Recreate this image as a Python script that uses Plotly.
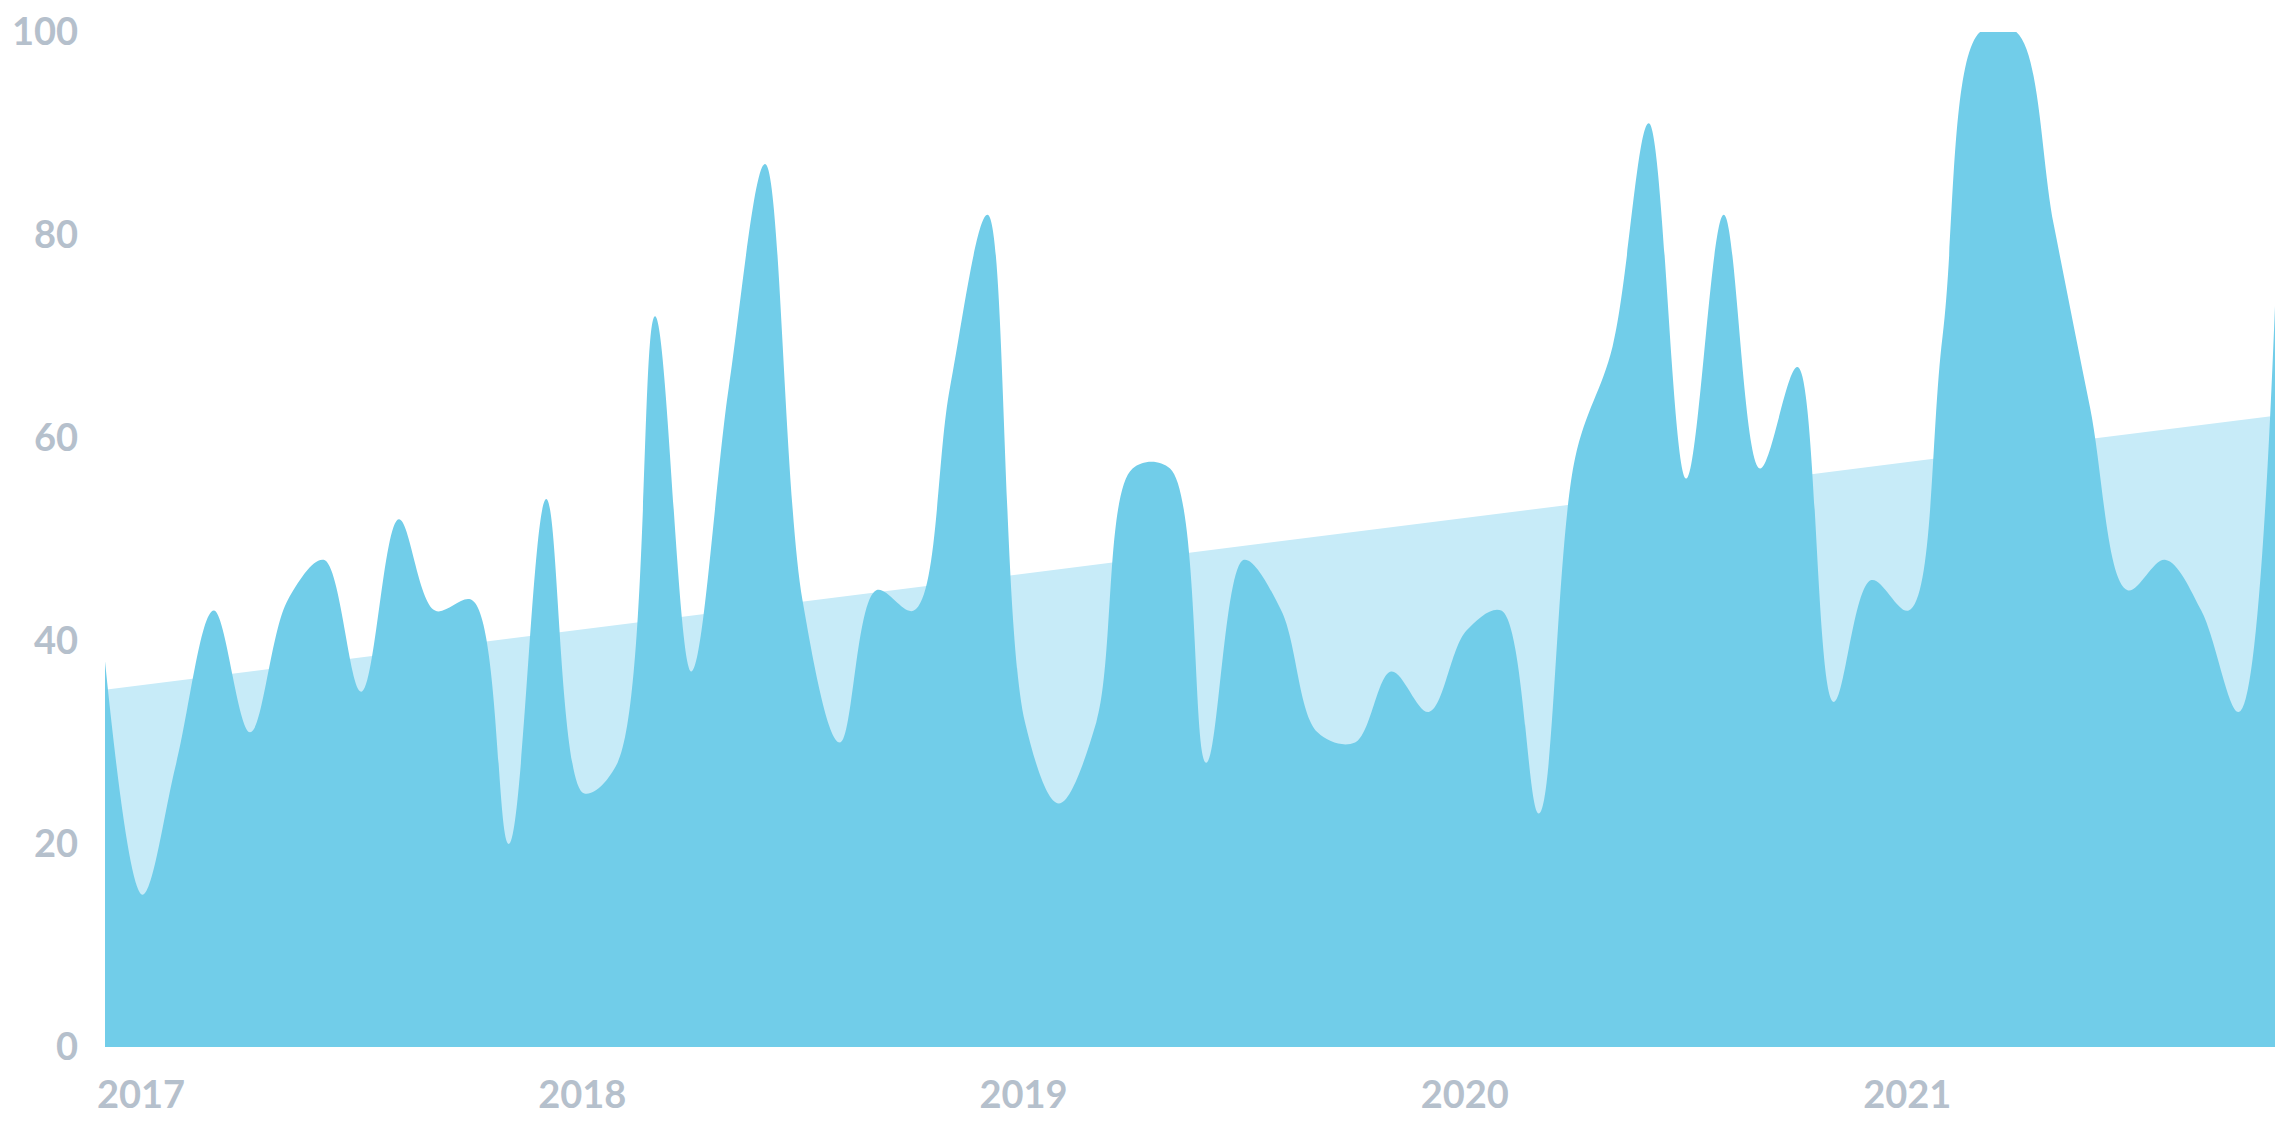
import plotly.graph_objects as go
import pandas as pd

# Monthly values, Jan 2017 .. Dec 2021
months = pd.date_range("2017-01-01", periods=60, freq="MS").strftime("%Y-%m-%d").tolist()
values = [
    38, 15, 28, 43, 31, 44, 48, 35, 52, 43, 44, 20,   # 2017
    54, 25, 28, 72, 37, 65, 87, 44, 30, 45, 43, 65,   # 2018
    82, 32, 24, 32, 57, 57, 28, 48, 43, 31, 30, 37,   # 2019
    33, 41, 43, 23, 58, 69, 91, 56, 82, 57, 67, 34,   # 2020
    46, 43, 70, 100, 100, 81, 63, 45, 48, 43, 33, 73,  # 2021
]
# Linear trend (start / end values)
trend_x = [months[0], months[-1]]
trend_y = [35.2, 62.2]

year_ticks = ["2017-01-01", "2018-01-01", "2019-01-01", "2020-01-01", "2021-01-01"]
year_labels = ["2017", "2018", "2019", "2020", "2021"]
y_ticks = [0, 20, 40, 60, 80, 100]

MAIN = "#71cde9"
LIGHT = "#c7ebf8"
LABEL = "#b5c0cc"

fig = go.Figure()
fig.add_trace(go.Scatter(
    x=trend_x, y=trend_y, mode="lines", fill="tozeroy",
    line=dict(width=0, color=LIGHT), fillcolor=LIGHT, hoverinfo="skip",
))
fig.add_trace(go.Scatter(
    x=months, y=values, mode="lines", fill="tozeroy",
    line=dict(width=0, color=MAIN, shape="spline", smoothing=1),
    fillcolor=MAIN,
))

font = dict(family="Lato", size=38, color=LABEL, weight="bold")
fig.update_layout(
    width=2282, height=1140,
    margin=dict(l=105, r=7, t=23, b=93),
    paper_bgcolor="white", plot_bgcolor="white",
    showlegend=False,
    xaxis=dict(
        type="date", range=[months[0], months[-1]],
        tickvals=year_ticks, ticktext=year_labels,
        showgrid=False, zeroline=False, showline=False, ticks="",
        tickfont=font, ticklabelshift=36, ticklabelstandoff=22,
        ticklabeloverflow="allow",
    ),
    yaxis=dict(
        range=[0, 100], tickvals=y_ticks,
        showgrid=False, zeroline=False, showline=False, ticks="",
        tickfont=font, ticklabelstandoff=26, ticklabeloverflow="allow",
    ),
)
fig.write_html(
    "out.html",
    config={"displayModeBar": False},
    post_script="document.body.style.margin='0';document.body.style.overflow='hidden';",
)
